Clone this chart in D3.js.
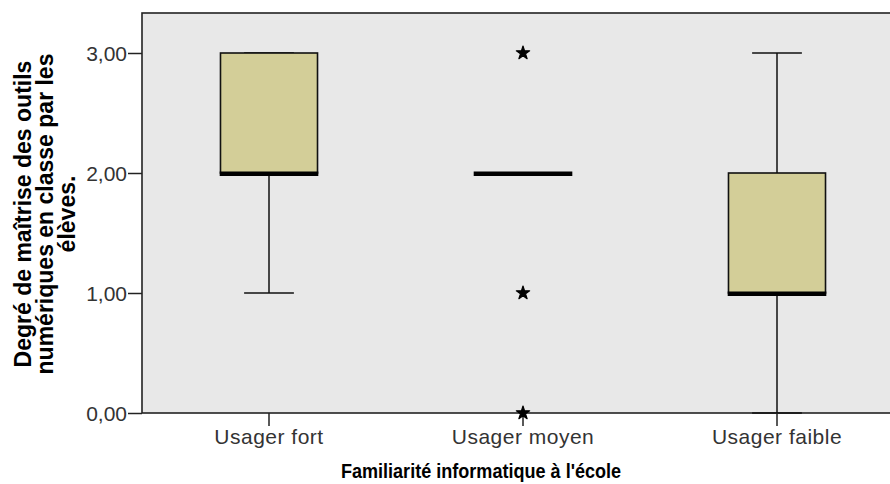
<!DOCTYPE html>
<html>
<head>
<meta charset="utf-8">
<script src="https://cdn.jsdelivr.net/npm/d3@7/dist/d3.min.js"></script>
<style>
  html, body { margin: 0; padding: 0; background: #ffffff; }
  svg { display: block; }
</style>
</head>
<body>
<script>
// ---- data ----
const categories = ["Usager fort", "Usager moyen", "Usager faible"];
const q1Values = [2, 2, 1];
const medianValues = [2, 2, 1];
const q3Values = [3, 2, 2];
const whiskerLow = [1, 2, 0];
const whiskerHigh = [3, 2, 3];
const outlierCategories = ["Usager moyen", "Usager moyen", "Usager moyen"];
const outlierValues = [3, 1, 0];
const yTicks = [0, 1, 2, 3];
const yTitleLines = ["Degré de maîtrise des outils", "numériques en classe par les", "élèves."];
const xTitle = "Familiarité informatique à l'école";

// ---- layout ----
const W = 890, H = 484;
const plot = { left: 142, top: 13, bottom: 413, right: 904 };

const svg = d3.select("body").append("svg")
  .attr("width", W).attr("height", H)
  .style("overflow", "hidden");

const x = d3.scaleBand().domain(categories).range([plot.left, plot.right]).padding(0);
const y = d3.scaleLinear().domain([0, 3]).range([plot.bottom, 53]);

// plot background
svg.append("rect")
  .attr("x", plot.left).attr("y", plot.top)
  .attr("width", plot.right - plot.left).attr("height", plot.bottom - plot.top)
  .attr("fill", "#e8e8e8")
  .attr("stroke", "#222").attr("stroke-width", 1.6);

const boxW = x.bandwidth() * 0.382;
const capW = x.bandwidth() * 0.196;
const cx = c => x(c) + x.bandwidth() / 2;

const data = categories.map((c, i) => ({
  c, q1: q1Values[i], med: medianValues[i], q3: q3Values[i], lo: whiskerLow[i], hi: whiskerHigh[i]
}));

const g = svg.append("g");
data.forEach(d => {
  const X = cx(d.c);
  if (d.hi > d.q3) {
    g.append("line").attr("x1", X).attr("x2", X).attr("y1", y(d.q3)).attr("y2", y(d.hi))
      .attr("stroke", "#111").attr("stroke-width", 1.5);
  }
  if (d.lo < d.q1) {
    g.append("line").attr("x1", X).attr("x2", X).attr("y1", y(d.q1)).attr("y2", y(d.lo))
      .attr("stroke", "#111").attr("stroke-width", 1.5);
  }
  if (d.hi > d.q3 || d.q3 > d.q1) {
    g.append("line").attr("x1", X - capW / 2).attr("x2", X + capW / 2).attr("y1", y(d.hi)).attr("y2", y(d.hi))
      .attr("stroke", "#111").attr("stroke-width", 1.5);
  }
  if (d.lo < d.q1 || d.q3 > d.q1) {
    g.append("line").attr("x1", X - capW / 2).attr("x2", X + capW / 2).attr("y1", y(d.lo)).attr("y2", y(d.lo))
      .attr("stroke", "#111").attr("stroke-width", 1.5);
  }
  if (d.q3 > d.q1) {
    g.append("rect").attr("x", X - boxW / 2).attr("y", y(d.q3))
      .attr("width", boxW).attr("height", y(d.q1) - y(d.q3))
      .attr("fill", "#d3ce98").attr("stroke", "#111").attr("stroke-width", 1.6);
  }
  g.append("rect").attr("x", X - boxW / 2 - 0.8).attr("y", y(d.med) - 1.5)
    .attr("width", boxW + 1.6).attr("height", 4.5).attr("fill", "#000");
});

// axes
const yAxis = svg.append("g").attr("transform", `translate(${plot.left},0)`)
  .call(d3.axisLeft(y).tickValues(yTicks).tickSize(14).tickPadding(1)
    .tickFormat(v => d3.format(".2f")(v).replace(".", ",")));
yAxis.select(".domain").remove();
yAxis.selectAll(".tick line").attr("stroke", "#222").attr("stroke-width", 1.5);
yAxis.selectAll(".tick text").attr("fill", "#333")
  .style("font-family", "Liberation Sans, Arial, sans-serif").style("font-size", "21px")
  .attr("dy", "0.36em");

const xAxis = svg.append("g").attr("transform", `translate(0,${plot.bottom})`)
  .call(d3.axisBottom(x).tickSize(13).tickPadding(3));
xAxis.select(".domain").remove();
xAxis.selectAll(".tick line").attr("stroke", "#222").attr("stroke-width", 1.5);
xAxis.selectAll(".tick text").attr("fill", "#333")
  .style("font-family", "Liberation Sans, Arial, sans-serif").style("font-size", "21px")
  .style("letter-spacing", "0.5px");

// outliers
svg.append("g").selectAll("path").data(outlierValues).join("path")
  .attr("transform", (v, i) => `translate(${cx(outlierCategories[i])},${y(v)})`)
  .attr("d", d3.symbol(d3.symbolStar, 55))
  .attr("fill", "#000").attr("stroke", "#000").attr("stroke-width", 1.2).attr("stroke-linejoin", "round");

// titles
svg.append("text")
  .attr("transform", "translate(481,478) scale(0.86,1)")
  .attr("text-anchor", "middle")
  .style("font-family", "Liberation Sans, Arial, sans-serif").style("font-size", "21px").style("font-weight", "bold")
  .attr("fill", "#000")
  .text(xTitle);

const yt = svg.append("text")
  .attr("transform", "translate(0,214) rotate(-90)")
  .attr("text-anchor", "middle")
  .style("font-family", "Liberation Sans, Arial, sans-serif").style("font-size", "23px").style("font-weight", "bold")
  .attr("fill", "#000");
yTitleLines.forEach((t, i) => {
  yt.append("tspan").attr("x", 0).attr("y", 31 + i * 22).text(t);
});
</script>
</body>
</html>
